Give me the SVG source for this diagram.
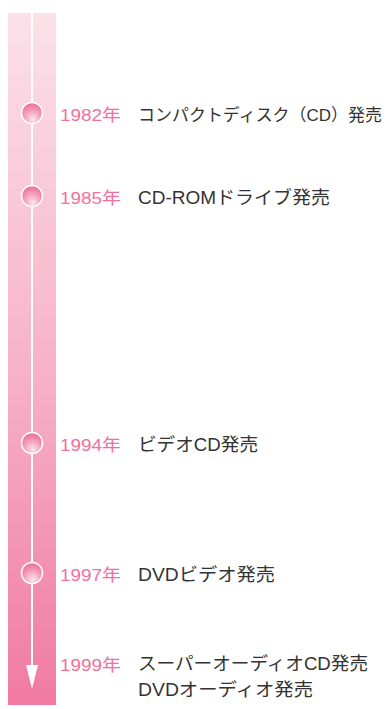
<svg xmlns="http://www.w3.org/2000/svg" width="390" height="709" viewBox="0 0 390 709">
<defs>
<linearGradient id="bar" x1="0" y1="0" x2="0" y2="1">
<stop offset="0" stop-color="#fbe1e9"/>
<stop offset="0.5" stop-color="#f7b3c9"/>
<stop offset="1" stop-color="#f07aa2"/>
</linearGradient>
<radialGradient id="ball" cx="0.5" cy="0.72" r="0.62" fx="0.55" fy="0.82">
<stop offset="0" stop-color="#fde6ee"/>
<stop offset="0.5" stop-color="#f6aac3"/>
<stop offset="1" stop-color="#ec76a0"/>
</radialGradient>
<style>
.yr{font-family:"Liberation Sans","Noto Sans CJK JP",sans-serif;font-size:17px;fill:#f0719c}
.ev{font-family:"Liberation Sans","Noto Sans CJK JP",sans-serif;font-size:18px;fill:#333}
.dot{fill:url(#ball);stroke:#fff;stroke-width:1.5}
</style>
</defs>
<rect x="8" y="13" width="48" height="692" fill="url(#bar)"/>
<g id="connectors">
<line x1="32" y1="13" x2="32" y2="668" stroke="#fff" stroke-width="2"/>
<polygon points="26,665 38,665 32,689" fill="#fff"/>
</g>
<g id="n1982">
<circle class="dot" cx="32" cy="113" r="10.5"/>
<text class="yr" x="60" y="121" textLength="61" lengthAdjust="spacingAndGlyphs">1982年</text>
<text class="ev" x="138" y="121" font-size="17" style="font-size:17px" textLength="244" lengthAdjust="spacingAndGlyphs">コンパクトディスク（CD）発売</text>
</g>
<g id="n1985">
<circle class="dot" cx="32" cy="196" r="10.5"/>
<text class="yr" x="60" y="204" textLength="61" lengthAdjust="spacingAndGlyphs">1985年</text>
<text class="ev" x="138" y="204" textLength="192" lengthAdjust="spacingAndGlyphs">CD-ROMドライブ発売</text>
</g>
<g id="n1994">
<circle class="dot" cx="32" cy="443" r="10.5"/>
<text class="yr" x="60" y="451" textLength="61" lengthAdjust="spacingAndGlyphs">1994年</text>
<text class="ev" x="138" y="451" textLength="120" lengthAdjust="spacingAndGlyphs">ビデオCD発売</text>
</g>
<g id="n1997">
<circle class="dot" cx="32" cy="573" r="10.5"/>
<text class="yr" x="60" y="581" textLength="61" lengthAdjust="spacingAndGlyphs">1997年</text>
<text class="ev" x="138" y="581" textLength="137" lengthAdjust="spacingAndGlyphs">DVDビデオ発売</text>
</g>
<g id="n1999">
<text class="yr" x="60" y="671" textLength="61" lengthAdjust="spacingAndGlyphs">1999年</text>
<text class="ev" x="138" y="670" textLength="230" lengthAdjust="spacingAndGlyphs">スーパーオーディオCD発売</text>
<text class="ev" x="138" y="696" textLength="175" lengthAdjust="spacingAndGlyphs">DVDオーディオ発売</text>
</g>
</svg>
